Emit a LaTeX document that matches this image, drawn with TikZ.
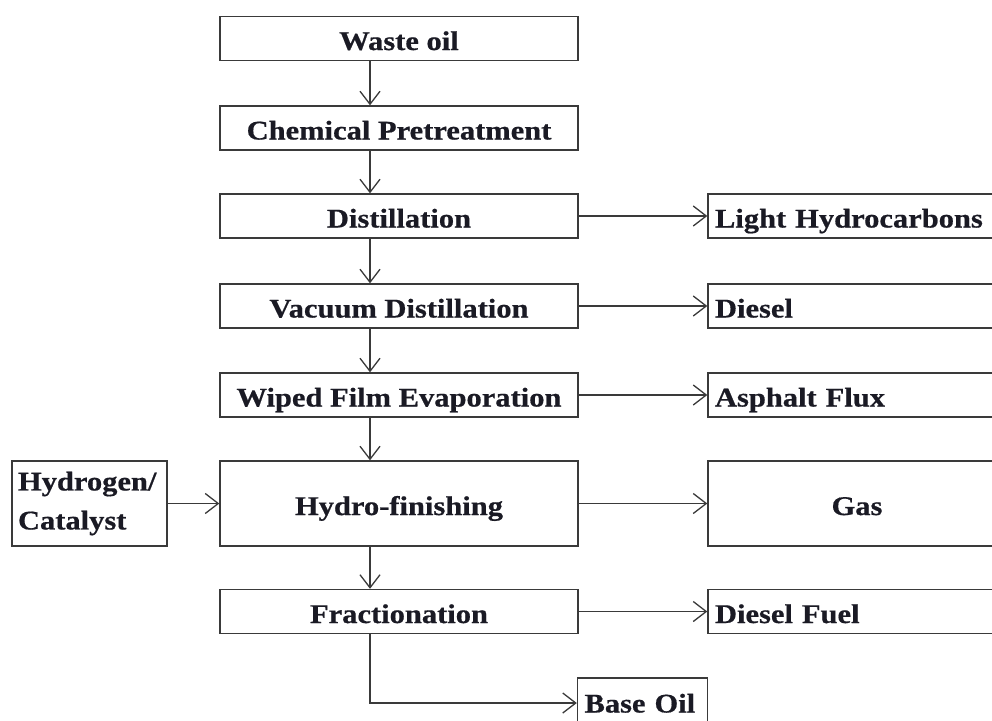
\documentclass[tikz,border=0pt]{standalone}
\usepackage{fontspec}
\setmainfont{Liberation Serif}[FakeStretch=1.13,FakeBold=0.6]
\usetikzlibrary{arrows.meta}
\definecolor{linec}{HTML}{3A3A3A}
\definecolor{txtc}{HTML}{1A1A24}
\begin{document}
\begin{tikzpicture}[x=1pt,y=-1pt,
  every node/.style={text=txtc, font=\fontsize{27}{39}\selectfont\bfseries},
  box/.style={draw=linec, line width=1.4pt, fill=white, inner sep=0pt, minimum width=358pt, minimum height=44pt, text height=24pt, text depth=1pt},
  outbox/.style={draw=linec, line width=1.4pt, fill=white, inner xsep=7pt, inner ysep=0pt, text width=284pt, align=left, minimum height=44pt, text height=24pt, text depth=1pt},
  arr/.style={draw=linec, line width=1.4pt, -{Straight Barb[length=13pt,width=20pt,line width=1.3pt]}}
]
\useasboundingbox (0,0) rectangle (992,720);
\clip (0,0) rectangle (992,720);
\fill[white] (0,0) rectangle (992,720);
% main column
\node[box] (waste) at (399,38.5) {Waste oil};
\node[box] (chem) at (399,128) {Chemical Pretreatment};
\node[box] (dist) at (399,216) {Distillation};
\node[box] (vac) at (399,306) {Vacuum Distillation};
\node[box] (wipe) at (399,395) {Wiped Film Evaporation};
\node[box, minimum height=85pt] (hydro) at (399,503.5) {Hydro-finishing};
\node[box] (frac) at (399,611.5) {Fractionation};
% side boxes
\node[outbox] (light) at (857,216) {Light Hydrocarbons};
\node[outbox] (diesel) at (857,306) {Diesel};
\node[outbox] (asph) at (857,395) {Asphalt Flux};
\node[outbox, align=center, minimum height=85pt] (gas) at (857,503.5) {Gas};
\node[outbox] (dfuel) at (857,611.5) {Diesel Fuel};
\node[draw=linec, line width=1.4pt, fill=white, inner xsep=7pt, inner ysep=0pt, text width=116pt, align=left, minimum height=50pt, text height=19pt, text depth=0pt] (base) at (642.5,703) {Base Oil};
\node[draw=linec, line width=1.4pt, fill=white, inner xsep=6pt, inner ysep=0pt, text width=143pt, align=left, minimum height=85pt] (hcat) at (89.5,503.5) {Hydrogen/\\Catalyst};
% vertical arrows
\draw[arr] ([xshift=-29pt]waste.south) -- ([xshift=-29pt]chem.north);
\draw[arr] ([xshift=-29pt]chem.south) -- ([xshift=-29pt]dist.north);
\draw[arr] ([xshift=-29pt]dist.south) -- ([xshift=-29pt]vac.north);
\draw[arr] ([xshift=-29pt]vac.south) -- ([xshift=-29pt]wipe.north);
\draw[arr] ([xshift=-29pt]wipe.south) -- ([xshift=-29pt]hydro.north);
\draw[arr] ([xshift=-29pt]hydro.south) -- ([xshift=-29pt]frac.north);
% horizontal arrows
\draw[arr] (dist.east) -- (light.west);
\draw[arr] (vac.east) -- (diesel.west);
\draw[arr] (wipe.east) -- (asph.west);
\draw[arr] (hydro.east) -- (gas.west);
\draw[arr] (frac.east) -- (dfuel.west);
\draw[arr] (hcat.east) -- (hydro.west);
\draw[arr] ([xshift=-29pt]frac.south) |- (base.west);
\end{tikzpicture}
\end{document}
